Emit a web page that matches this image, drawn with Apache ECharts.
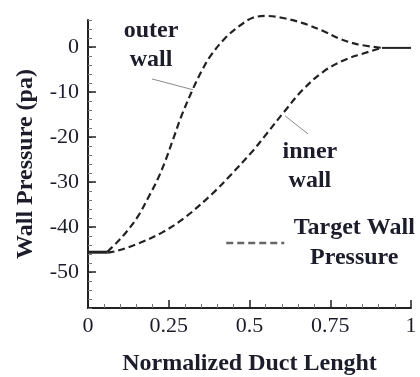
<!DOCTYPE html>
<html>
<head>
<meta charset="utf-8">
<script src="https://cdn.jsdelivr.net/npm/echarts@6/dist/echarts.min.js"></script>
<style>
  html, body { margin: 0; padding: 0; background: #fff; }
  #chart { width: 420px; height: 377px; }
</style>
</head>
<body>
<div id="chart"></div>
<script>
// Wall pressure along the normalized duct length
const outerWall = [
  [0.06, -45.5], [0.09, -43.4], [0.12, -41.0], [0.155, -37.6], [0.19, -33.0],
  [0.215, -29.5], [0.24, -25.2], [0.265, -20.2], [0.29, -15.2], [0.325, -9.3],
  [0.355, -4.9], [0.38, -1.9], [0.425, 2.0], [0.475, 5.0], [0.51, 6.5],
  [0.55, 6.9], [0.60, 6.5], [0.665, 5.3], [0.73, 3.5], [0.78, 1.8],
  [0.835, 0.6], [0.91, -0.2]
];
const innerWall = [
  [0.06, -45.7], [0.09, -45.3], [0.155, -43.7], [0.23, -41.2], [0.30, -37.9],
  [0.385, -32.6], [0.445, -28.2], [0.51, -23.1], [0.555, -19.1], [0.605, -14.6],
  [0.665, -9.5], [0.73, -5.4], [0.80, -2.7], [0.85, -1.5], [0.895, -0.5],
  [0.91, -0.2]
];
// Flat inlet and outlet sections where both walls coincide
const inletSection = [[0, -45.6], [0.06, -45.6]];
const outletSection = [[0.91, -0.2], [1, -0.2]];

// Axis ticks
const xTickValues = [0, 0.25, 0.5, 0.75, 1];
const yTickValues = [-50, -40, -30, -20, -10, 0];
const yRange = [-58, 6];

// Callouts: text anchors and leader lines (data units)
const outerNote = { text: 'outer\nwall', at: [0.195, 0.4], leader: [[0.198, -7.1], [0.325, -9.5]] };
const innerNote = { text: 'inner\nwall', at: [0.687, -26.6], leader: [[0.61, -15.3], [0.681, -19.3]] };
const legendName = 'Target Wall Pressure';

const serif = '"Liberation Serif", "Times New Roman", serif';
const ink = '#1c1c2a';

const chart = echarts.init(document.getElementById('chart'), null, { renderer: 'canvas' });

function note(n) {
  return {
    silent: true,
    symbol: 'none',
    lineStyle: { color: '#8a8a8a', width: 1, type: 'solid' },
    label: { show: false },
    data: [[{ coord: n.leader[0] }, { coord: n.leader[1] }]]
  };
}
function noteText(n) {
  return {
    silent: true,
    symbol: 'circle',
    symbolSize: 0,
    itemStyle: { color: 'transparent' },
    label: {
      show: true, position: 'inside', formatter: n.text,
      fontFamily: serif, fontWeight: 'bold', fontSize: 24, lineHeight: 29,
      color: ink, align: 'center'
    },
    data: [{ coord: n.at }]
  };
}

const dashed = { color: '#222', width: 2.2, type: [7, 4] };

chart.setOption({
  animation: false,
  grid: { left: 88, right: 9, top: 20, bottom: 69, containLabel: false, outerBoundsMode: 'none' },
  legend: {
    data: [legendName],
    left: 225, top: 216, padding: 0,
    itemWidth: 58, itemHeight: 14,
    lineStyle: { color: '#666', width: 2.5, type: [7, 4] },
    itemStyle: { color: 'rgba(0,0,0,0)', borderWidth: 0 },
    formatter: '{t|Target Wall}\n{t|Pressure}',
    textStyle: {
      rich: {
        t: { fontFamily: serif, fontWeight: 'bold', fontSize: 24, lineHeight: 30,
             width: 130, align: 'center', color: ink }
      }
    }
  },
  xAxis: {
    type: 'value',
    min: xTickValues[0], max: xTickValues[xTickValues.length - 1], interval: 0.25,
    name: 'Normalized Duct Lenght',
    nameLocation: 'middle', nameGap: 44,
    nameTextStyle: { fontFamily: serif, fontWeight: 'bold', fontSize: 24, color: ink },
    axisLine: { onZero: false, lineStyle: { color: '#222', width: 2 } },
    axisTick: { inside: true, length: 8, lineStyle: { color: '#222', width: 1.5 } },
    minorTick: { show: true, splitNumber: 5, length: 4, lineStyle: { color: '#777', width: 1 } },
    axisLabel: { fontFamily: serif, fontSize: 22, color: ink, margin: 7 },
    splitLine: { show: false }
  },
  yAxis: [
    {
      // minor scale every 2 pa
      type: 'value', min: yRange[0], max: yRange[1], interval: 2,
      axisLine: { show: true, onZero: false, lineStyle: { color: '#222', width: 2 } },
      axisTick: { inside: true, length: 4, lineStyle: { color: '#777', width: 1 } },
      axisLabel: { show: false },
      splitLine: { show: false }
    },
    {
      type: 'value', min: yRange[0], max: yRange[1], position: 'left',
      name: 'Wall Pressure (pa)',
      nameLocation: 'middle', nameGap: 50, nameRotate: 90,
      nameTextStyle: { fontFamily: serif, fontWeight: 'bold', fontSize: 24, color: ink },
      axisLine: { show: false, onZero: false },
      axisTick: { show: true, inside: true, length: 8, customValues: yTickValues,
                  lineStyle: { color: '#222', width: 1.5 } },
      axisLabel: { show: true, customValues: yTickValues, fontFamily: serif, fontSize: 22,
                   color: ink, margin: 9 },
      splitLine: { show: false }
    }
  ],
  series: [
    {
      name: legendName, type: 'line', data: outerWall, smooth: 0.35, clip: false,
      showSymbol: false, symbol: 'none', lineStyle: dashed,
      markLine: note(outerNote), markPoint: noteText(outerNote)
    },
    {
      name: legendName, type: 'line', data: innerWall, smooth: 0.35, clip: false,
      showSymbol: false, symbol: 'none', lineStyle: dashed,
      markLine: note(innerNote), markPoint: noteText(innerNote)
    },
    {
      name: 'inlet', type: 'line', data: inletSection, symbol: 'none', clip: false,
      lineStyle: { color: '#222', width: 3 }
    },
    {
      name: 'outlet', type: 'line', data: outletSection, symbol: 'none', clip: false,
      lineStyle: { color: '#222', width: 2 }
    }
  ]
});
</script>
</body>
</html>
